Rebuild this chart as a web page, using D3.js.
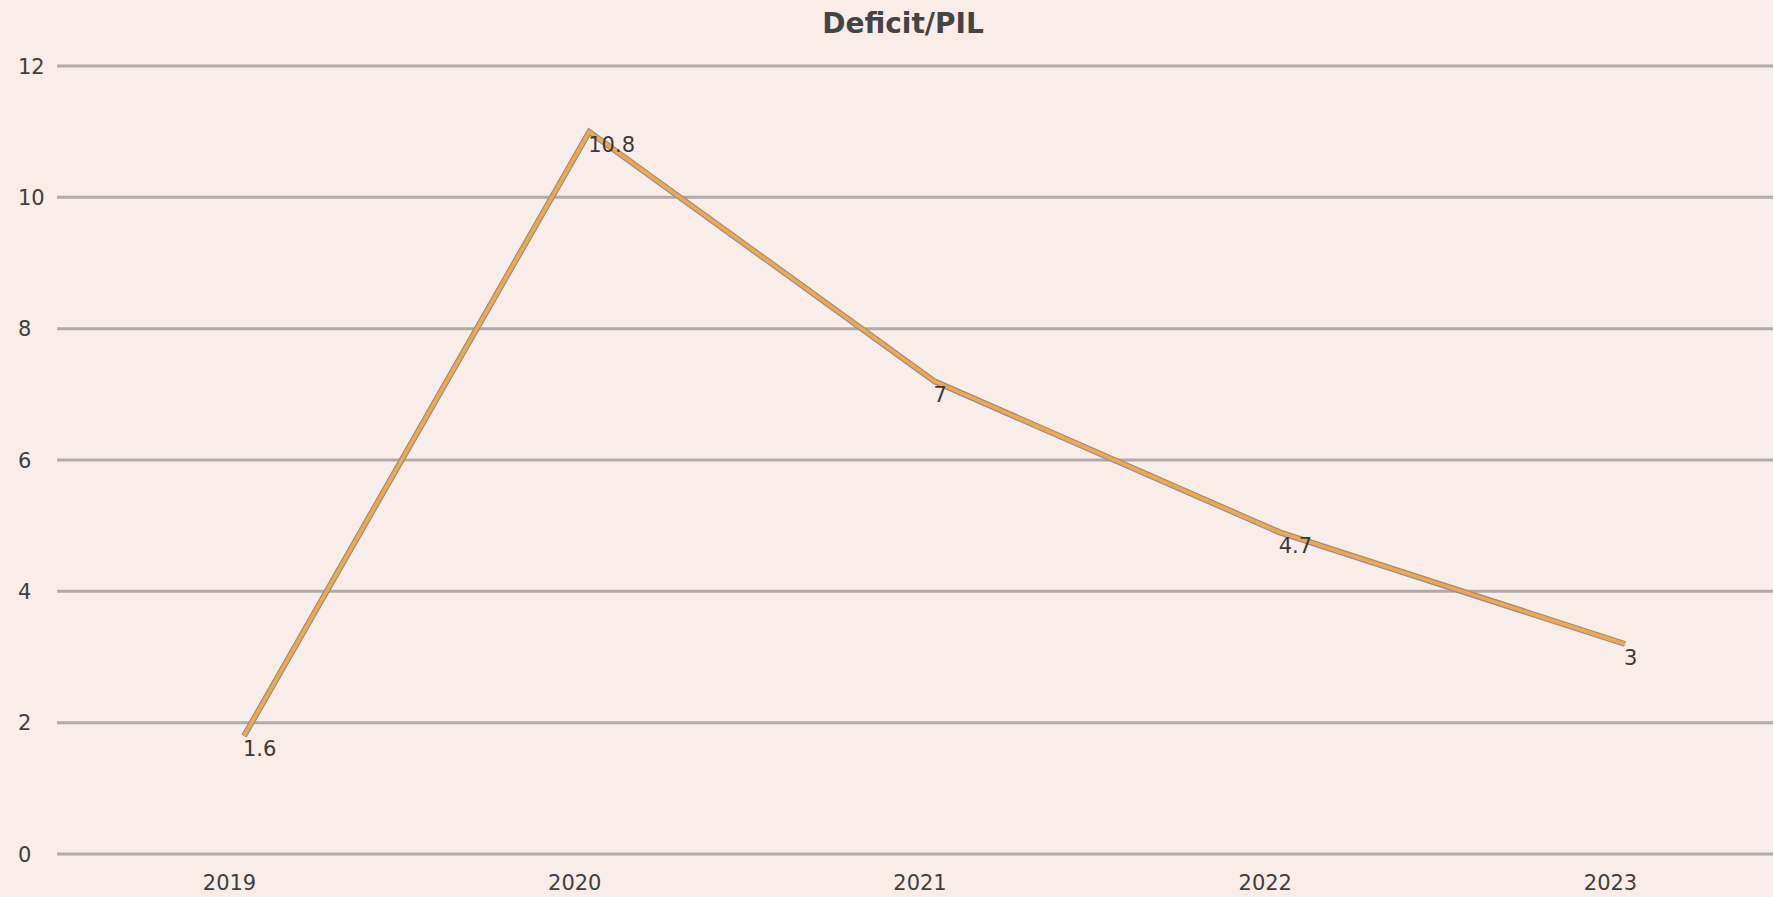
<!DOCTYPE html>
<html>
<head>
<meta charset="utf-8">
<script src="https://cdn.jsdelivr.net/npm/d3@7/dist/d3.min.js"></script>
<style>
  html, body { margin: 0; padding: 0; background: #f8ede9; }
  svg { display: block; font-family: "DejaVu Sans", sans-serif; }
  .grid line { stroke: #b1aaa8; stroke-width: 3px; }
  .tick-label { fill: #3f3f3f; font-size: 21px; }
</style>
</head>
<body>
<div class="canvas"></div>
<script>
// data
var years = ['2019', '2020', '2021', '2022', '2023'];
var deficit = [1.6, 10.8, 7, 4.7, 3];
var yTicks = [0, 2, 4, 6, 8, 10, 12];
var title = 'Deficit/PIL';

var width = 1773, height = 897;

var svg = d3.select('.canvas')
    .append('svg')
    .attr('width', width)
    .attr('height', height);

var x = d3.scalePoint()
    .domain(years)
    .range([244, 1625]);

var y = d3.scaleLinear()
    .domain([0, 12])
    .range([854, 66]);

// title
svg.append('text')
    .attr('x', 903)
    .attr('y', 33)
    .attr('text-anchor', 'middle')
    .style('font-size', '28px')
    .style('font-weight', 'bold')
    .style('fill', '#444')
    .text(title);

// gridlines
var grid = svg.append('g').attr('class', 'grid');
grid.selectAll('line')
    .data(yTicks)
    .enter()
    .append('line')
    .attr('x1', 57)
    .attr('x2', width)
    .attr('y1', function(d){ return y(d); })
    .attr('y2', function(d){ return y(d); });

// y labels (left aligned)
svg.selectAll('.ylab')
    .data(yTicks)
    .enter()
    .append('text')
    .attr('class', 'tick-label ylab')
    .attr('x', 18)
    .attr('y', function(d){ return y(d); })
    .attr('dy', '0.36em')
    .text(function(d){ return d; });

// x labels
svg.selectAll('.xlab')
    .data(years)
    .enter()
    .append('text')
    .attr('class', 'tick-label xlab')
    .attr('x', function(d){ return x(d) - 14.5; })
    .attr('y', 890)
    .attr('text-anchor', 'middle')
    .text(function(d){ return d; });

// the line sits a bit above its labels in the original
var pts = years.map(function(d, i){ return [d, deficit[i]]; });
var line = d3.line()
    .x(function(d){ return x(d[0]); })
    .y(function(d){ return y(d[1]); });

var lineG = svg.append('g').attr('transform', 'translate(0,-13)');
lineG.append('path')
    .attr('d', line(pts))
    .style('fill', 'none')
    .style('stroke', '#a38e78')
    .style('stroke-width', '6px');
lineG.append('path')
    .attr('d', line(pts))
    .style('fill', 'none')
    .style('stroke', '#ebaa52')
    .style('stroke-width', '3.5px');

// value labels
svg.selectAll('.vlab')
    .data(pts)
    .enter()
    .append('text')
    .attr('class', 'tick-label vlab')
    .attr('x', function(d){ return x(d[0]) - 1; })
    .attr('y', function(d){ return y(d[1]); })
    .attr('dy', '0.36em')
    .style('fill', '#3a3a3a')
    .text(function(d){ return d[1]; });
</script>
</body>
</html>
